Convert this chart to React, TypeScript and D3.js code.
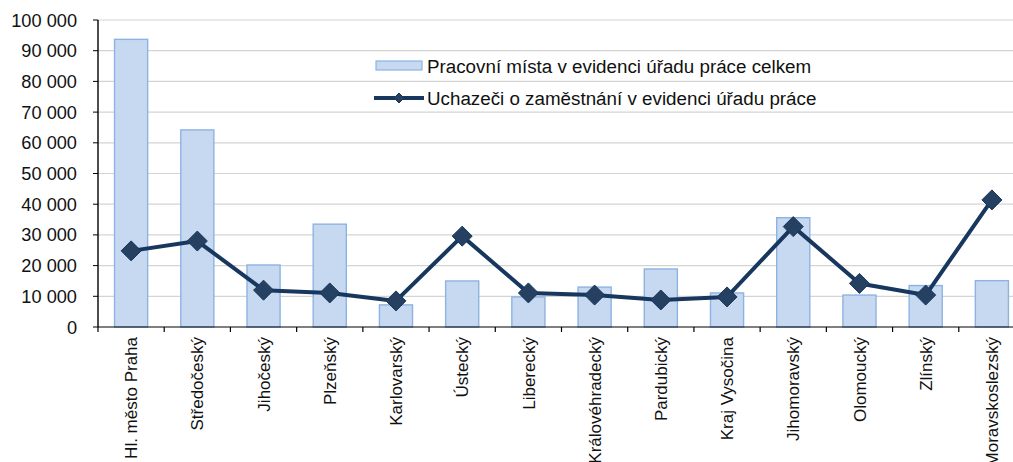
import React from 'react';
import * as d3 from 'd3';

const regions = [
  'Hl. město Praha', 'Středočeský', 'Jihočeský', 'Plzeňský', 'Karlovarský', 'Ústecký',
  'Liberecký', 'Královéhradecký', 'Pardubický', 'Kraj Vysočina', 'Jihomoravský',
  'Olomoucký', 'Zlínský', 'Moravskoslezský',
];
const vacancies = [93700, 64200, 20200, 33500, 7200, 15000, 9800, 13000, 18900, 11100, 35600, 10400, 13500, 15100];
const applicants = [24800, 28000, 12000, 11100, 8500, 29600, 11100, 10400, 8800, 9800, 32700, 14200, 10400, 41400];
const yTicks = d3.range(0, 100001, 10000);
const legendLabels = ['Pracovní místa v evidenci úřadu práce celkem', 'Uchazeči o zaměstnání v evidenci úřadu práce'];

const W = 1013;
const H = 462;
const margin = { top: 20, left: 98, bottom: 135 };
const plotRight = 1025; // plot runs past the picture edge

const fmt = (v: number) => d3.format(',')(v).replace(/,/g, ' ');

export default function App() {
  const x = d3.scaleBand<string>().domain(regions).range([margin.left, plotRight]).paddingInner(0.5).paddingOuter(0.25);
  const step = x.step();
  const y = d3.scaleLinear().domain([0, 100000]).range([H - margin.bottom, margin.top]);
  const y0 = y(0);
  const cx = (r: string) => (x(r) as number) + x.bandwidth() / 2;

  const line = d3.line<number>()
    .x((_, i) => cx(regions[i]))
    .y((d) => y(d));

  const diamond = (px: number, py: number, s: number) =>
    `M${px},${py - s}L${px + s},${py}L${px},${py + s}L${px - s},${py}Z`;

  const font = "'Liberation Sans', Arial, sans-serif";

  return (
    <div style={{ position: 'fixed', left: 0, top: 0 }}>
      <svg width={W} height={H} style={{ display: 'block', background: '#fff' }} fontFamily={font}>
        {/* grid */}
        {yTicks.filter((t) => t > 0).map((t) => (
          <line key={t} x1={margin.left} x2={W} y1={y(t)} y2={y(t)} stroke="#d4d4d4" strokeWidth={1.2} />
        ))}

        {/* bars */}
        {regions.map((r, i) => (
          <rect key={r} x={x(r)} y={y(vacancies[i])} width={x.bandwidth()} height={y0 - y(vacancies[i])}
            fill="#c6d9f1" stroke="#8db3e2" strokeWidth={1.4} />
        ))}

        {/* y axis */}
        <line x1={margin.left} x2={margin.left} y1={margin.top} y2={y0} stroke="#000" strokeWidth={1.4} />
        {yTicks.map((t) => (
          <g key={t}>
            <line x1={margin.left - 5} x2={margin.left} y1={y(t)} y2={y(t)} stroke="#000" />
            <text x={77} y={y(t)} dy="0.36em" textAnchor="end" fontSize={18.2} fill="#111">{fmt(t)}</text>
          </g>
        ))}

        {/* x axis */}
        <line x1={margin.left} x2={W} y1={y0} y2={y0} stroke="#000" strokeWidth={1.2} />
        {d3.range(regions.length + 1).map((i) => (
          <line key={i} x1={margin.left + i * step} x2={margin.left + i * step} y1={y0} y2={y0 + 5} stroke="#000" strokeWidth={1.2} />
        ))}
        {regions.map((r) => (
          <text key={r} transform={`translate(${cx(r)},${y0 + 10}) rotate(-90)`} textAnchor="end" dy="0.36em"
            fontSize={17} fill="#111">{r}</text>
        ))}

        {/* line */}
        <path d={line(applicants) || ''} fill="none" stroke="#17375e" strokeWidth={4} strokeLinejoin="round" />
        {applicants.map((v, i) => (
          <path key={i} d={diamond(cx(regions[i]), y(v), 10)} fill="#254061" stroke="#17375e" strokeWidth={1} />
        ))}

        {/* legend */}
        <rect x={376} y={61} width={46} height={9} fill="#c6d9f1" stroke="#8db3e2" strokeWidth={1.2} />
        <text x={427} y={66} dy="0.36em" fontSize={18.8} fill="#111">{legendLabels[0]}</text>
        <line x1={374} x2={424} y1={98} y2={98} stroke="#17375e" strokeWidth={4} />
        <path d={diamond(399, 98, 5)} fill="#254061" stroke="#17375e" />
        <text x={427} y={98} dy="0.36em" fontSize={18.8} fill="#111">{legendLabels[1]}</text>
      </svg>
    </div>
  );
}
